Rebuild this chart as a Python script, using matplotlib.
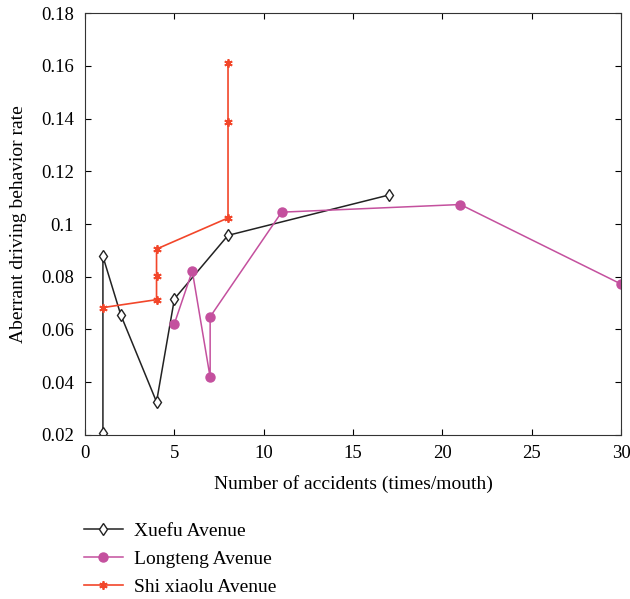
import matplotlib
matplotlib.use("Agg")
import matplotlib.pyplot as plt

# data
xuefu_x = [1, 1, 2, 4, 5, 8, 17]
xuefu_y = [0.0206, 0.0877, 0.0655, 0.0325, 0.0716, 0.0957, 0.111]
longteng_x = [5, 6, 7, 7, 11, 21, 30]
longteng_y = [0.0622, 0.0822, 0.0418, 0.0648, 0.1045, 0.1074, 0.0772]
shi_x = [1, 4, 4, 4, 8, 8, 8]
shi_y = [0.0683, 0.0713, 0.0803, 0.0905, 0.1023, 0.1387, 0.1612]

plt.rcParams["font.family"] = ["Liberation Serif", "DejaVu Serif"]
plt.rcParams["font.size"] = 13

fig = plt.figure(figsize=(6.3, 5.99), dpi=100)
ax = fig.add_axes([0.135, 0.274, 0.851, 0.704])

ax.plot(xuefu_x, xuefu_y, color="#222222", lw=1.1, marker="d", ms=6.5,
        mfc="white", mec="#222222", mew=1.0, label="Xuefu Avenue")
ax.plot(longteng_x, longteng_y, color="#c4509e", lw=1.1, marker="o", ms=6.5,
        mfc="#c4509e", mec="#c4509e", label="Longteng Avenue")
ax.plot(shi_x, shi_y, color="#f2462a", lw=1.2, marker=(6, 2, 0), ms=6,
        mfc="#f2462a", mec="#f2462a", mew=1.3, label="Shi xiaolu Avenue")

ax.set_xlim(0, 30)
ax.set_ylim(0.02, 0.18)
ax.set_xticks([0, 5, 10, 15, 20, 25, 30])
ax.set_yticks([0.02, 0.04, 0.06, 0.08, 0.1, 0.12, 0.14, 0.16, 0.18])
ax.set_yticklabels(["0.02", "0.04", "0.06", "0.08", "0.1", "0.12", "0.14", "0.16", "0.18"])
ax.tick_params(direction="in", top=True, right=True, length=4, labelsize=13.5)
ax.tick_params(axis="x", pad=7)
ax.tick_params(axis="y", pad=8)
for s in ax.spines.values():
    s.set_color("#333333")
ax.set_xlabel("Number of accidents (times/mouth)", fontsize=14, labelpad=10)
ax.set_ylabel("Aberrant driving behavior rate", fontsize=14, labelpad=10)

ax.legend(loc="upper left", bbox_to_anchor=(-0.035, -0.165), frameon=False,
          fontsize=14, handlelength=2.0, labelspacing=0.55, handletextpad=0.6)

fig.savefig("out.png", dpi=100)
